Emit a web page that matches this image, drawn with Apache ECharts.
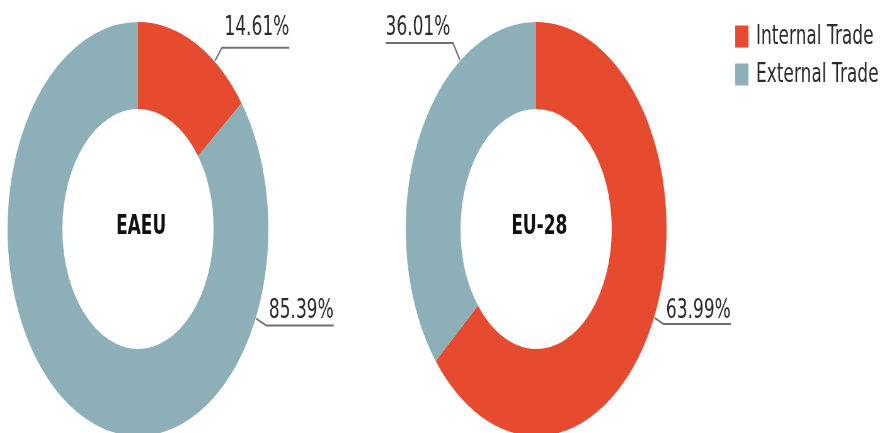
<!DOCTYPE html>
<html><head><meta charset="utf-8">
<script src="https://cdn.jsdelivr.net/npm/echarts@6/dist/echarts.min.js"></script>
<style>
html,body{margin:0;padding:0;overflow:hidden;background:#fff;width:888px;height:433px}
#chart{width:1410px;height:433px;transform:scaleX(0.63);transform-origin:0 0}
</style>
</head><body><div id="chart"></div>
<script>
// ---- data ----
const categories = ['Internal Trade', 'External Trade'];
const groups = ['EAEU', 'EU-28'];
const eaeuValues = [14.61, 85.39];
const eu28Values = [63.99, 36.01];

// ---- layout / style (unscaled canvas space) ----
const centers = [[219, 229], [851, 229]];
const radii = [120, 207];
const colors = ['#e64b30', '#8cafb8'];
const FONT = 'DejaVu Sans';
// leader line per series / data item: [anchor angle deg (clockwise from top), dx, dy, gap above line]
const leaders = [
  [[36, 11, -13, 6], [115.5, 16, 7, 1]],
  [[115.3, 14, 6, -1], [324.4, -11, -17, 1]]
];

const chart = echarts.init(document.getElementById('chart'), null, { renderer: 'canvas' });

function makeSeries(idx, values) {
  return {
    type: 'pie',
    name: groups[idx],
    center: centers[idx],
    radius: radii,
    startAngle: 90,
    clockwise: true,
    avoidLabelOverlap: false,
    animation: false,
    itemStyle: { borderWidth: 0 },
    label: {
      show: true,
      position: 'outside',
      formatter: p => p.value.toFixed(2) + '%',
      fontFamily: FONT,
      fontSize: 27,
      color: '#2b2b2b'
    },
    labelLine: { show: true, length: 10, length2: 10, lineStyle: { color: '#707070', width: 2 } },
    labelLayout: function (params) {
      const L = leaders[params.seriesIndex][params.dataIndex];
      const c = centers[params.seriesIndex];
      const r = radii[1] + 1;
      const a = L[0] * Math.PI / 180;
      const p0 = [c[0] + r * Math.sin(a), c[1] - r * Math.cos(a)];
      const p1 = [p0[0] + L[1], p0[1] + L[2]];
      const w = params.labelRect.width;
      const right = L[1] > 0;
      const pad = 4;
      const tx = right ? p1[0] + pad : p1[0] - pad;
      const p2 = [right ? tx + w : tx - w, p1[1]];
      return {
        x: tx, y: p1[1] - L[3],
        align: right ? 'left' : 'right',
        verticalAlign: 'bottom',
        labelLinePoints: [p0, p1, p2]
      };
    },
    emphasis: { disabled: true },
    data: categories.map((n, i) => ({ name: n, value: values[i], itemStyle: { color: colors[i] } }))
  };
}

chart.setOption({
  backgroundColor: '#ffffff',
  animation: false,
  title: groups.map((g, i) => ({
    text: g,
    left: centers[i][0],
    top: centers[i][1] - 7,
    textAlign: 'center',
    textVerticalAlign: 'middle',
    textStyle: { fontFamily: FONT, fontWeight: 'bold', fontSize: 27, color: '#111' }
  })),
  legend: {
    orient: 'vertical',
    left: 1162,
    top: 18,
    itemWidth: 21,
    itemHeight: 22,
    itemGap: 11,
    icon: 'rect',
    selectedMode: false,
    textStyle: { fontFamily: FONT, fontSize: 27, color: '#2b2b2b', padding: [0, 0, 0, 7] },
    data: categories
  },
  series: [makeSeries(0, eaeuValues), makeSeries(1, eu28Values)]
});
</script>
</body></html>
